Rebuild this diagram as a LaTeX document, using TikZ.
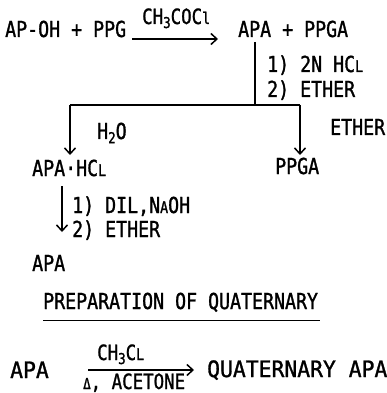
\documentclass[tikz,border=0pt]{standalone}
\usepackage{fontspec}
\setmainfont[FakeStretch=0.83,FakeBold=1.2]{DejaVu Sans Mono}
\newfontfamily\widefont[FakeStretch=0.95,FakeBold=1.2]{DejaVu Sans Mono}
\usetikzlibrary{arrows.meta}
\newcommand{\sml}[1]{{\fontsize{16}{18}\selectfont #1}}
\newcommand{\subt}[1]{\raisebox{-0.35ex}{\fontsize{15}{16}\selectfont #1}}
\begin{document}
\begin{tikzpicture}[x=1pt,y=-1pt,
  txt/.style={anchor=base west,inner sep=0pt,font=\fontsize{22}{26}\selectfont},
  big/.style={anchor=base west,inner sep=0pt,font=\widefont\fontsize{22.5}{26}\selectfont},
  lab/.style={anchor=base west,inner sep=0pt,font=\fontsize{21}{23}\selectfont},
  conn/.style={line width=1.5pt},
  arr/.style={line width=1.5pt,-{Straight Barb[length=6pt,width=11pt,line width=1.5pt]}}]
\useasboundingbox (0,0) rectangle (386,393);
% row 1
\node[txt] (r1) at (5,37) {AP-OH + PPG};
\node[lab] (c1) at (142,24) {CH\subt{3}COC\sml{l}};
\node[txt] (p1) at (238,37) {APA + PPGA};
\coordinate (a1s) at (132,39);
\coordinate (a1e) at (218,39);
\draw[arr] (a1s) -- (a1e);
% split
\coordinate (v1) at (255,42);
\coordinate (j1) at (255,105);
\coordinate (jl) at (70,105);
\coordinate (jr) at (300,105);
\draw[conn] (v1) -- (j1);
\node[txt] (s1) at (267,72) {1) 2N HC\sml{L}};
\node[txt] (s2) at (267,97) {2) ETHER};
\node[txt] (w1) at (97,139) {H\subt{2}O};
\node[txt] (e1) at (330,135) {ETHER};
\node[txt] (apahcl) at (32,176) {APA·HC\sml{L}};
\node[txt] (ppga) at (275,174) {PPGA};
\draw[conn] (jl) -- (jr);
\draw[arr] (jl) -- (70,155);
\draw[arr] (jr) -- (300,155);
% second step
\coordinate (a2s) at (62,186);
\coordinate (a2e) at (62,232);
\draw[arr] (a2s) -- (a2e);
\node[txt] (d1) at (72,213) {1) DIL,N\sml{A}OH};
\node[txt] (d2) at (72,237) {2) ETHER};
\node[txt] (apa1) at (32,271) {APA};
% quaternary
\node[txt] (title) at (43,309) {PREPARATION OF QUATERNARY};
\coordinate (u1) at (43,320);
\coordinate (u2) at (320,320);
\draw[line width=1pt] (u1) -- (u2);
\node[big] (apa2) at (10,378) {APA};
\node[lab] (ch3cl) at (97,360) {CH\subt{3}C\sml{L}};
\coordinate (a3s) at (88,370);
\coordinate (a3e) at (194,370);
\draw[arr] (a3s) -- (a3e);
\node[lab] (acet) at (83,389) {{\fontsize{15}{16}\selectfont Δ}, ACETONE};
\node[big] (qapa) at (207,377) {QUATERNARY APA};
\end{tikzpicture}
\end{document}
